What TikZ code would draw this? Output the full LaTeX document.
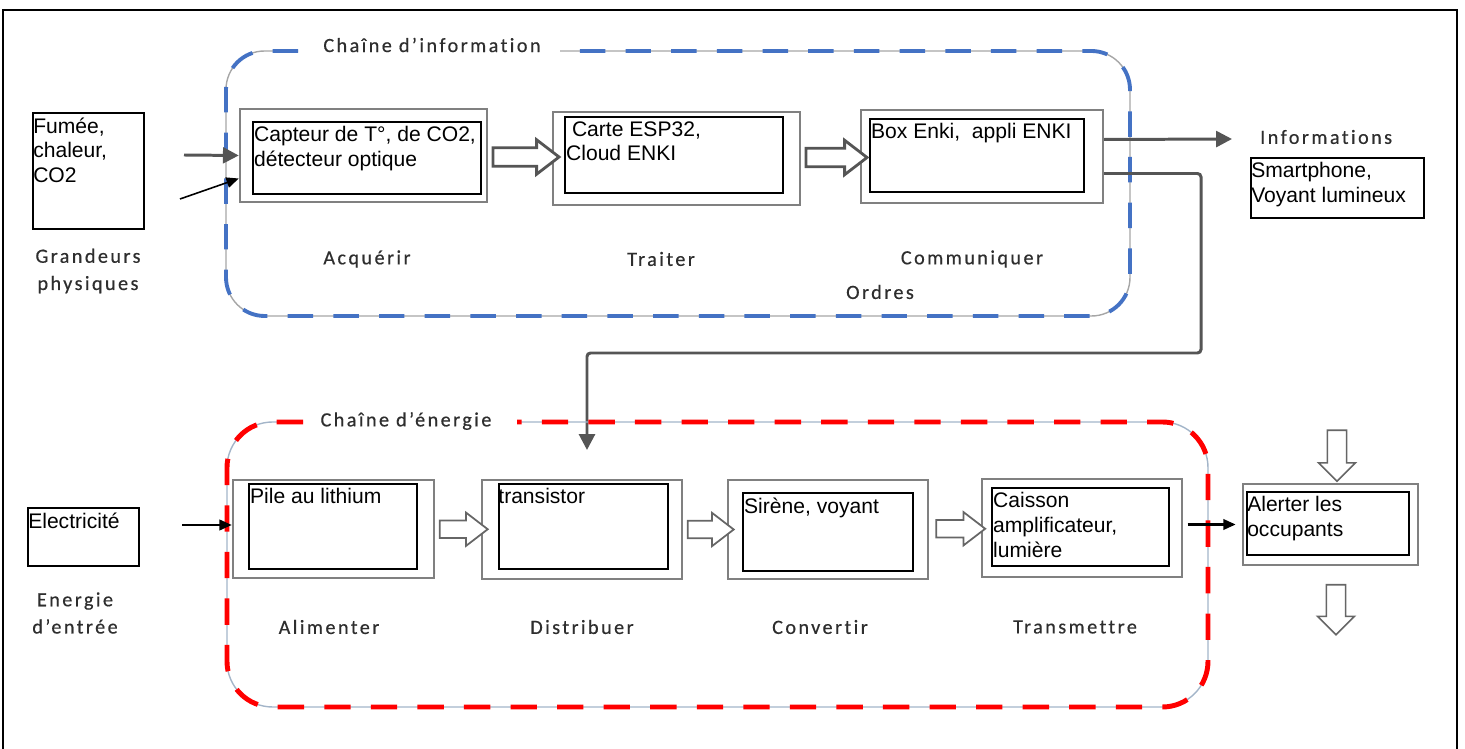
\documentclass[tikz,border=0pt]{standalone}
\usepackage{fontspec}
\setmainfont{Liberation Sans}
\newfontfamily\lblfont[LetterSpace=12, Ligatures=CommonOff, FakeBold=0.5]{Carlito}
\usetikzlibrary{arrows.meta,calc,fit,shapes.arrows}

\definecolor{infoblue}{HTML}{4472C4}
\definecolor{energyred}{HTML}{FF0000}
\definecolor{darkline}{HTML}{555555}
\definecolor{lbltext}{HTML}{2E2E2E}
\definecolor{steelline}{HTML}{A3B5C9}

\tikzset{
  outerbox/.style={draw=black!50, line width=1.4pt, inner sep=0pt},
  innerbox/.style={draw=black, line width=1.1pt, inner sep=0pt},
  boxtext/.style={anchor=north west, align=left, inner xsep=1pt, inner ysep=3pt,
    font=\fontsize{12}{14}\selectfont},
  lbl/.style={text=lbltext, align=center, font=\lblfont\fontsize{11.5}{15.5}\selectfont},
  hollow/.style={single arrow, draw=darkline, fill=white, line width=1.6pt, inner sep=4.5pt,
    single arrow head extend=4.5pt, single arrow tip angle=75, minimum height=#1},
  downhollow/.style={hollow=#1, shape border rotate=270, draw=black!60, line width=0.9pt,
    inner sep=5pt, single arrow head extend=5pt, single arrow tip angle=90},
  grayarrow/.style={draw=darkline, line width=1.7pt, -{Triangle[length=9pt,width=9pt]}},
  blackarrow/.style={draw=black, line width=1.2pt, -{Triangle[length=7pt,width=6pt]}},
  frameline/.style={line width=0.8pt, rounded corners=#1},
  infoframe/.style={draw=infoblue, line width=2.2pt, dash pattern=on 14.5pt off 11.5pt, rounded corners=22pt},
  energyframe/.style={draw=energyred, line width=2.8pt, dash pattern=on 15pt off 11.5pt, rounded corners=26pt},
}

\begin{document}
\begin{tikzpicture}[x=0.02cm, y=-0.02cm]
    \useasboundingbox (0,0) rectangle (1465,749);
    \draw[line width=1.1pt] (3,749) -- (3,10) -- (1457,10) -- (1457,749);

    % Chaine d'information
    \draw[frameline=22pt, draw=black!35] (298,51) -- (226,51) -- (226,316) -- (1130,316) -- (1130,51) -- (560,51);
    \draw[infoframe] (298,51) -- (226,51) -- (226,316) -- (1130,316) -- (1130,51) -- (560,51);
    \node[lbl] (infoT) at (432,45) {Chaîne d’information};

    \node[outerbox, fit={(240,109) (487,202)}] (accA) {};
    \node[innerbox, fit={(253,122) (481,194)}] (accI) {};
    \node[boxtext] (accT) at (accI.north west) {Capteur de T°, de CO2,\\détecteur optique};
    \node[outerbox, fit={(553,112) (800,205)}] (trtA) {};
    \node[innerbox, fit={(565,117) (783,193)}] (trtI) {};
    \node[boxtext] (trtT) at (trtI.north west) {\ Carte ESP32,\\Cloud ENKI};
    \node[outerbox, fit={(861,110) (1103,203)}] (comA) {};
    \node[innerbox, fit={(870,119) (1084,192)}] (comI) {};
    \node[boxtext] (comT) at (comI.north west) {Box Enki,\ \ appli ENKI};

    \node[hollow=1.32cm] (h1) at ($(accA.east)!0.5!(trtA.west)$) {};
    \node[hollow=1.22cm] (h2) at ($(trtA.east)!0.5!(comA.west)$) {};

    \node[lbl] (accL) at (367,259) {Acquérir};
    \node[lbl] (trtL) at (661,259) {Traiter};
    \node[lbl] (comL) at (972,259) {Communiquer};
    \node[lbl] (ordL) at (880,292) {Ordres};

    % Grandeurs physiques
    \node[innerbox, fit={(33,113) (144,229)}] (fum) {};
    \node[boxtext, inner xsep=0.5pt] (fumT) at (fum.north west) {Fumée,\\chaleur,\\CO2};
    \node[lbl] (gpL) at (88,271) {Grandeurs\\physiques};
    \coordinate (fumOut) at (184,155);
    \coordinate (fumLow) at (180,199);
    \draw[grayarrow] (fumOut) -- (accA.west);
    \draw[blackarrow, line width=0.9pt] (fumLow) -- ($(accA.west)+(0,23)$);

    % Informations
    \coordinate (infoEnd) at (1232,139);
    \draw[grayarrow] ($(comA.east)+(0,-17)$) -- (infoEnd);
    \node[lbl, anchor=west] (infoL) at (1254,137) {Informations};
    \node[innerbox, fit={(1251,158) (1424,218)}] (sph) {};
    \node[boxtext, inner xsep=0.5pt] (sphT) at (sph.north west) {Smartphone,\\Voyant lumineux};

    % Ordres
    \coordinate (ordEnd) at (587,450);
    \draw[grayarrow, rounded corners=2pt] ($(comA.east)+(0,17)$) -| (1201,353) -| (ordEnd);

    % Chaine d'energie
    \draw[frameline=26pt, draw=steelline] (303,422) -- (227,422) -- (227,707) -- (1208,707) -- (1208,422) -- (517,422);
    \draw[energyframe] (303,422) -- (227,422) -- (227,707) -- (1208,707) -- (1208,422) -- (517,422);
    \node[lbl] (enT) at (406,421) {Chaîne d’énergie};

    \node[outerbox, fit={(233,480) (434,578)}] (alimA) {};
    \node[innerbox, fit={(249,484) (417,569)}] (alimI) {};
    \node[boxtext] (alimT) at (alimI.north west) {Pile au lithium};
    \node[outerbox, fit={(482,480) (682,579)}] (disA) {};
    \node[innerbox, fit={(499,484) (668,569)}] (disI) {};
    \node[boxtext, inner xsep=0pt] (disT) at (disI.north west) {transistor};
    \node[outerbox, fit={(728,480) (928,579)}] (convA) {};
    \node[innerbox, fit={(743,493) (913,571)}] (convI) {};
    \node[boxtext] (convT) at (convI.north west) {Sirène, voyant};
    \node[outerbox, fit={(982,479) (1182,577)}] (traA) {};
    \node[innerbox, fit={(992,488) (1169,566)}] (traI) {};
    \node[boxtext] (traT) at (traI.north west) {Caisson\\amplificateur,\\lumière};

    \node[hollow=0.96cm, line width=1pt, draw=black!60] (h3) at ($(alimA.east)!0.5!(disA.west)$) {};
    \node[hollow=0.92cm, line width=1pt, draw=black!60] (h4) at ($(disA.east)!0.5!(convA.west)$) {};
    \node[hollow=0.98cm, line width=1pt, draw=black!60] (h5) at ($(convA.east)!0.5!(traA.west)$) {};

    \node[lbl] (alimL) at (329,627) {Alimenter};
    \node[lbl] (disL) at (582,627) {Distribuer};
    \node[lbl] (convL) at (820,627) {Convertir};
    \node[lbl] (traL) at (1075,627) {Transmettre};

    % Energie d'entree
    \node[innerbox, fit={(28,508) (139,566)}] (elec) {};
    \node[boxtext, inner xsep=0.5pt] (elecT) at (elec.north west) {Electricité};
    \node[lbl] (eeL) at (75,613) {Energie\\d’entrée};
    \coordinate (elecOut) at (182,525);
    \draw[blackarrow] (elecOut) -- (alimA.west |- elecOut);

    % Alerter les occupants
    \node[outerbox, fit={(1243,484) (1418,565)}] (alA) {};
    \node[innerbox, fit={(1247,492) (1409,555)}] (alI) {};
    \node[boxtext, inner xsep=0.5pt] (alT) at (alI.north west) {Alerter les\\occupants};
    \draw[blackarrow, shorten <=2.5pt, shorten >=3.5pt] (traA.east |- alA.west) -- (alA.west);
    \node[downhollow=1.02cm] (d1) at (1337,451) {};
    \node[downhollow=1.0cm] (d2) at (1336,605) {};
\end{tikzpicture}
\end{document}
